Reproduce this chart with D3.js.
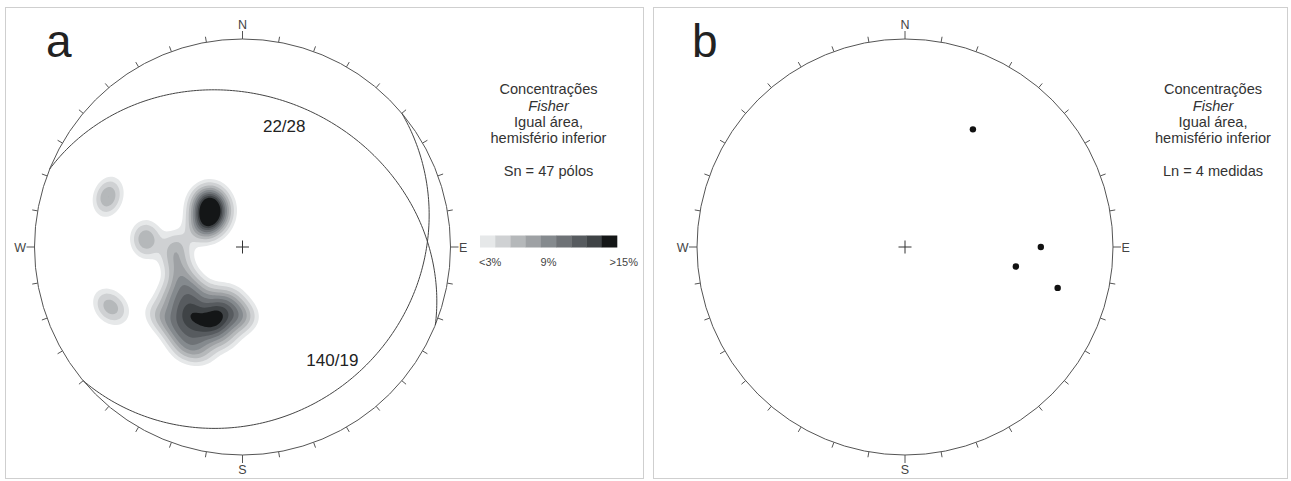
<!DOCTYPE html>
<html>
<head>
<meta charset="utf-8">
<script src="https://cdn.jsdelivr.net/npm/d3@7"></script>
<style>
  body { margin: 0; background: #fff; }
  svg { display: block; }
  text { font-family: "Liberation Sans", Arial, sans-serif; }
</style>
</head>
<body>
<svg id="chart" width="1291" height="481"></svg>
<script>
// ---- Sn poles (trend / plunge, degrees) ----
const poleTrend = [
  292, 289,                                   // W-NW group
  277, 272,                                   // W group
  247, 244,                                   // WSW group
  272,                                        // isolated
  328, 320, 329, 321, 312, 326, 316, 305, 316, 303, 293, // NW maximum
  240, 232,                                   // SW maximum
  235, 228, 220, 208, 194,
  226, 218, 202, 198, 185,
  223, 217, 209, 200, 189,
  216, 209, 202, 193,
  209, 202,
  261, 249,
  216, 203, 179,
  231
];
const polePlunge = [
  31, 32,
  51, 52,
  29, 33,
  64,
  66, 66, 70, 69, 69, 73, 72, 72, 75, 75, 72,
  61, 65,
  55, 60, 64, 67, 69,
  54, 58, 61, 64, 65,
  48, 52, 55, 58, 59,
  46, 49, 52, 53,
  43, 45,
  63, 64,
  57, 59, 62,
  47
];

// ---- planes drawn as great circles (dip direction / dip) ----
const planeDipDir = [22, 140];
const planeDip = [28, 19];
const planeLabels = ["22/28", "140/19"];
const labelTrendShift = [-2, 3];
const labelPlungeShift = [13, 10];

// ---- Ln lineations (trend / plunge) ----
const lineTrend = [30, 90, 100, 105];
const linePlunge = [35, 35, 45, 25];

// ---- density classes (% per 1% area) ----
const densityLevels = [1.7, 3, 4.7, 6.4, 8.1, 9.9, 11.6, 13.3, 15];
const levelColors = ["#e6e8e9", "#cfd1d3", "#b5b8ba", "#9ea1a4", "#858a8e",
                     "#6e7276", "#575b5f", "#3f4346", "#141617"];
const legendLabels = ["<3%", "9%", ">15%"];
const fisherK = 200;
const densityScale = 0.8;   // calibration of Fisher weights to % per 1% area

const cardinalLabels = ["N", "E", "S", "W"];
const infoA = ["Concentrações", "Fisher", "Igual área,", "hemisfério inferior", "Sn = 47 pólos"];
const infoB = ["Concentrações", "Fisher", "Igual área,", "hemisfério inferior", "Ln = 4 medidas"];

// ---- layout ----
const R = 208;
const panels = [
  { letter: "a", cx: 242.5, cy: 247, frame: [5.5, 7.5, 638, 471], infoX: 548.5, info: infoA },
  { letter: "b", cx: 905, cy: 247, frame: [653.5, 7.5, 634, 471], infoX: 1213, info: infoB }
];

const svg = d3.select("#chart");
const rad = Math.PI / 180;

// equal-area radial scale: normalised distance (0..1) -> pixels
const rScale = d3.scaleLinear().domain([0, 1]).range([0, R]);
const angScale = d3.scaleLinear().domain([0, 360]).range([0, 2 * Math.PI]);

function project(trend, plunge, cx, cy) {
  const rn = Math.SQRT2 * Math.sin((90 - plunge) / 2 * rad);
  const r = rScale(rn);
  const a = angScale(trend);
  return [cx + r * Math.sin(a), cy - r * Math.cos(a)];
}

function drawNet(g, p) {
  // frame
  g.append("rect")
    .attr("x", p.frame[0]).attr("y", p.frame[1])
    .attr("width", p.frame[2]).attr("height", p.frame[3])
    .attr("fill", "none").attr("stroke", "#cfcfcf").attr("stroke-width", 1);

  // panel letter
  g.append("text")
    .attr("x", p.letter === "a" ? 46 : 692).attr("y", 57)
    .attr("font-size", 46).attr("fill", "#222")
    .text(p.letter);

  // primitive circle
  g.append("circle")
    .attr("cx", p.cx).attr("cy", p.cy).attr("r", R)
    .attr("fill", "none").attr("stroke", "#555").attr("stroke-width", 1);

  // 10-degree ticks
  const ticks = d3.range(0, 360, 10);
  g.selectAll("line.tick").data(ticks).enter().append("line")
    .attr("class", "tick")
    .attr("x1", d => p.cx + R * Math.sin(angScale(d)))
    .attr("y1", d => p.cy - R * Math.cos(angScale(d)))
    .attr("x2", d => p.cx + (R + (d % 90 === 0 ? 8 : 5.5)) * Math.sin(angScale(d)))
    .attr("y2", d => p.cy - (R + (d % 90 === 0 ? 8 : 5.5)) * Math.cos(angScale(d)))
    .attr("stroke", "#555").attr("stroke-width", 1);

  // cardinal labels
  const cardPos = [
    { t: cardinalLabels[0], x: p.cx, y: p.cy - R - 10, anchor: "middle" },
    { t: cardinalLabels[1], x: p.cx + R + 8.5, y: p.cy + 4.5, anchor: "start" },
    { t: cardinalLabels[2], x: p.cx, y: p.cy + R + 18.5, anchor: "middle" },
    { t: cardinalLabels[3], x: p.cx - R - 8.5, y: p.cy + 4.5, anchor: "end" }
  ];
  g.selectAll("text.card").data(cardPos).enter().append("text")
    .attr("class", "card")
    .attr("x", d => d.x).attr("y", d => d.y)
    .attr("text-anchor", d => d.anchor)
    .attr("font-size", 12.5).attr("fill", "#444")
    .text(d => d.t);

  // centre cross
  g.append("path")
    .attr("d", `M${p.cx - 6.5},${p.cy}H${p.cx + 6.5}M${p.cx},${p.cy - 6.5}V${p.cy + 6.5}`)
    .attr("stroke", "#333").attr("stroke-width", 1);

  // info text block
  const baselines = [94, 110.5, 127, 143, 176];
  g.selectAll("text.info").data(p.info).enter().append("text")
    .attr("class", "info")
    .attr("x", p.infoX).attr("y", (d, i) => baselines[i])
    .attr("text-anchor", "middle")
    .attr("font-size", 14.6).attr("fill", "#333")
    .attr("font-style", (d, i) => i === 1 ? "italic" : "normal")
    .text(d => d);
}

const gA = svg.append("g");
const gB = svg.append("g");

// ---- panel a: Fisher density contours of the poles ----
(function () {
  const p = panels[0];
  const poles = poleTrend.map((t, i) => {
    const tr = t * rad, pl = polePlunge[i] * rad;
    return [Math.cos(pl) * Math.sin(tr), Math.cos(pl) * Math.cos(tr), -Math.sin(pl)];
  });
  const step = 2;
  const n = Math.ceil(2 * R / step) + 1;
  const values = new Float64Array(n * n);
  const N = poles.length;
  for (let j = 0; j < n; j++) {
    for (let i = 0; i < n; i++) {
      const x = -R + i * step, y = -R + j * step;
      const rr = Math.hypot(x, y);
      if (rr > R) { values[j * n + i] = 0; continue; }
      const rn = rr / R;
      const theta = 2 * Math.asin(Math.min(1, rn / Math.SQRT2)); // angle from vertical
      const tr = Math.atan2(x, -y);
      const v = [Math.sin(theta) * Math.sin(tr), Math.sin(theta) * Math.cos(tr), -Math.cos(theta)];
      let s = 0;
      for (const q of poles) {
        const c = Math.abs(v[0] * q[0] + v[1] * q[1] + v[2] * q[2]);
        s += Math.exp(fisherK * (c - 1));
      }
      values[j * n + i] = densityScale * fisherK * s / N;
    }
  }
  const contours = d3.contours().size([n, n]).thresholds(densityLevels)(values);
  const path = d3.geoPath(d3.geoIdentity().scale(step).translate([p.cx - R - step / 2, p.cy - R - step / 2]));
  const color = d3.scaleOrdinal().domain(densityLevels).range(levelColors);

  svg.append("clipPath").attr("id", "netClip")
    .append("circle").attr("cx", p.cx).attr("cy", p.cy).attr("r", R);

  gA.append("g").attr("clip-path", "url(#netClip)")
    .selectAll("path").data(contours).enter().append("path")
    .attr("d", path)
    .attr("fill", d => color(d.value))
    .attr("stroke", "none");

  drawNet(gA, p);

  // great circles
  const line = d3.line().curve(d3.curveLinear);
  planeDipDir.forEach((dd, k) => {
    const dip = planeDip[k];
    const s = (dd - 90) * rad, dr = dd * rad, dp = dip * rad;
    const sv = [Math.sin(s), Math.cos(s), 0];
    const dv = [Math.sin(dr) * Math.cos(dp), Math.cos(dr) * Math.cos(dp), -Math.sin(dp)];
    const pts = d3.range(0, 180.5, 1).map(a => {
      const ca = Math.cos(a * rad), sa = Math.sin(a * rad);
      const v = [ca * sv[0] + sa * dv[0], ca * sv[1] + sa * dv[1], ca * sv[2] + sa * dv[2]];
      const pl = Math.asin(Math.max(-1, Math.min(1, -v[2]))) / rad;
      const tr = (Math.atan2(v[0], v[1]) / rad + 360) % 360;
      return project(tr, pl, p.cx, p.cy);
    });
    gA.append("path").attr("d", line(pts))
      .attr("fill", "none").attr("stroke", "#444").attr("stroke-width", 1);
  });

  // plane labels, set just inside each arc near its dip direction
  gA.selectAll("text.plane").data(planeLabels).enter().append("text")
    .attr("class", "plane")
    .attr("x", (d, i) => project(planeDipDir[i] + labelTrendShift[i], planeDip[i] + labelPlungeShift[i], p.cx, p.cy)[0])
    .attr("y", (d, i) => project(planeDipDir[i] + labelTrendShift[i], planeDip[i] + labelPlungeShift[i], p.cx, p.cy)[1])
    .attr("text-anchor", "middle").attr("font-size", 17).attr("fill", "#222")
    .text(d => d);

  // legend
  const lx = d3.scaleBand().domain(d3.range(levelColors.length)).range([480, 617]).padding(0);
  gA.selectAll("rect.leg").data(levelColors).enter().append("rect")
    .attr("class", "leg")
    .attr("x", (d, i) => lx(i)).attr("y", 235.5)
    .attr("width", lx.bandwidth() + 0.3).attr("height", 12)
    .attr("fill", d => d);
  const legPos = [
    { x: 479, anchor: "start" },
    { x: lx(4) + lx.bandwidth() / 2, anchor: "middle" },
    { x: 638, anchor: "end" }
  ];
  gA.selectAll("text.leg").data(legendLabels).enter().append("text")
    .attr("class", "leg")
    .attr("x", (d, i) => legPos[i].x).attr("y", 266)
    .attr("text-anchor", (d, i) => legPos[i].anchor)
    .attr("font-size", 11).attr("fill", "#444")
    .text(d => d);
})();

// ---- panel b: lineations ----
(function () {
  const p = panels[1];
  drawNet(gB, p);
  gB.selectAll("circle.pt").data(lineTrend).enter().append("circle")
    .attr("class", "pt")
    .attr("cx", (d, i) => project(d, linePlunge[i], p.cx, p.cy)[0])
    .attr("cy", (d, i) => project(d, linePlunge[i], p.cx, p.cy)[1])
    .attr("r", 3.2).attr("fill", "#111");
})();
</script>
</body>
</html>
